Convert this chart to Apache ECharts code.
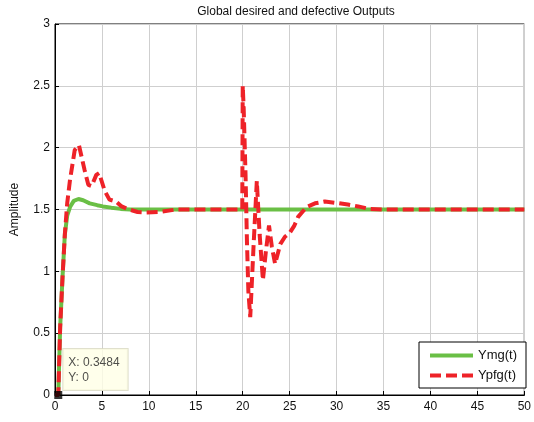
<!DOCTYPE html>
<html>
<head>
<meta charset="utf-8">
<title>Global desired and defective Outputs</title>
<script src="https://cdn.jsdelivr.net/npm/echarts@6/dist/echarts.min.js"></script>
<style>
  html, body { margin: 0; padding: 0; background: #fff; }
  #chart { width: 534px; height: 422px; }
</style>
</head>
<body>
<div id="chart"></div>
<script>
// desired output Ymg(t)
const tGreen = [0, 0.35, 0.55, 0.8, 1.05, 1.3, 1.6, 2.0, 2.5, 3.0, 3.7, 4.5, 5.1, 6.0, 7.0, 8.0, 10, 20, 30, 40, 50];
const yGreen = [0, 0, 0.55, 0.95, 1.3, 1.45, 1.52, 1.57, 1.585, 1.575, 1.55, 1.535, 1.525, 1.515, 1.505, 1.5, 1.5, 1.5, 1.5, 1.5, 1.5];

// defective output Ypfg(t)
const tRed = [0, 0.35, 0.55, 0.8, 1.05, 1.3, 1.6, 2.1, 2.55, 3.15, 3.55, 3.9, 4.4, 4.7, 5.3, 5.8, 6.5, 7.1, 7.9, 8.8, 9.7, 11.1, 12.9, 14,
  19.95, 20.0, 20.1, 20.3, 20.45, 20.6, 20.8, 21.15, 21.5, 21.8, 22.15, 22.45, 22.8, 23.1, 23.45, 24.0, 24.5, 25.0, 25.5, 25.9,
  26.8, 27.7, 28.75, 29.8, 31.2, 32.3, 33.5, 35, 50];
const yRed = [0, 0, 0.55, 0.95, 1.3, 1.55, 1.74, 1.98, 2.02, 1.82, 1.70, 1.69, 1.78, 1.795, 1.65, 1.58, 1.565, 1.525, 1.50, 1.48, 1.476, 1.48, 1.50, 1.5,
  1.5, 2.5, 2.32, 1.78, 1.24, 0.84, 0.63, 1.2, 1.73, 1.3, 0.93, 1.15, 1.37, 1.2, 1.06, 1.22, 1.28, 1.31, 1.37, 1.44,
  1.52, 1.55, 1.565, 1.555, 1.54, 1.525, 1.505, 1.5, 1.5];

// data tip
const tipX = 0.3484;
const tipY = 0;

const chart = echarts.init(document.getElementById('chart'));

const font = 'Liberation Sans, Arial, sans-serif';

const option = {
  animation: false,
  textStyle: { fontFamily: font },
  title: {
    text: 'Global desired and defective Outputs',
    left: 291,
    top: 1,
    textAlign: 'center',
    textStyle: { fontSize: 12, fontWeight: 'normal', color: '#111', fontFamily: font },
  },
  grid: {
    left: 55,
    right: 7,
    top: 24,
    bottom: 27,
    show: true,
    borderColor: '#000',
    borderWidth: 1,
    backgroundColor: '#fff',
  },
  legend: {
    orient: 'vertical',
    right: 8,
    bottom: 34,
    backgroundColor: '#fff',
    borderColor: '#000',
    borderWidth: 1,
    padding: [7, 9, 6, 9],
    itemGap: 7,
    itemWidth: 43,
    itemHeight: 12,
    itemStyle: { opacity: 0 },
    lineStyle: { width: 4 },
    textStyle: { fontSize: 13, color: '#111', fontFamily: font },
    data: ['Ymg(t)', 'Ypfg(t)'],
  },
  xAxis: {
    type: 'value',
    min: 0,
    max: 50,
    interval: 5,
    axisLine: { show: true, onZero: false, lineStyle: { color: '#000', width: 1 } },
    axisTick: { show: true, inside: true, length: 4, lineStyle: { color: '#000' } },
    axisLabel: { fontSize: 12, color: '#111', margin: 6 },
    splitLine: { show: true, lineStyle: { color: '#cfcfcf', width: 1 } },
  },
  yAxis: {
    type: 'value',
    min: 0,
    max: 3,
    interval: 0.5,
    name: 'Amplitude',
    nameLocation: 'middle',
    nameGap: 34,
    nameTextStyle: { fontSize: 12, color: '#111' },
    axisLine: { show: true, lineStyle: { color: '#000', width: 1 } },
    axisTick: { show: true, inside: true, length: 4, lineStyle: { color: '#000' } },
    axisLabel: { fontSize: 12, color: '#111', margin: 5 },
    splitLine: { show: true, lineStyle: { color: '#cfcfcf', width: 1 } },
  },
  series: [
    {
      name: 'Ymg(t)',
      type: 'line',
      symbol: 'none',
      z: 2,
      lineStyle: { color: '#6abf45', width: 4 },
      itemStyle: { color: '#6abf45' },
      data: tGreen.map((t, i) => [t, yGreen[i]]),
    },
    {
      name: 'Ypfg(t)',
      type: 'line',
      symbol: 'none',
      z: 3,
      lineStyle: { color: '#ee2228', width: 4, type: [11, 5] },
      itemStyle: { color: '#ee2228' },
      data: tRed.map((t, i) => [t, yRed[i]]),
    },
    {
      name: 'tip',
      type: 'scatter',
      symbol: 'rect',
      symbolSize: 8,
      z: 5,
      itemStyle: { color: '#000' },
      label: {
        show: true,
        position: [9, -42],
        formatter: 'X: ' + tipX + '\nY: ' + tipY,
        fontSize: 12,
        lineHeight: 15,
        color: '#222',
        backgroundColor: '#ffffe6',
        borderColor: '#d8d8c0',
        borderWidth: 1,
        padding: [6, 8, 5, 5],
      },
      data: [[tipX, tipY]],
    },
  ],
};

chart.setOption(option);
</script>
</body>
</html>
